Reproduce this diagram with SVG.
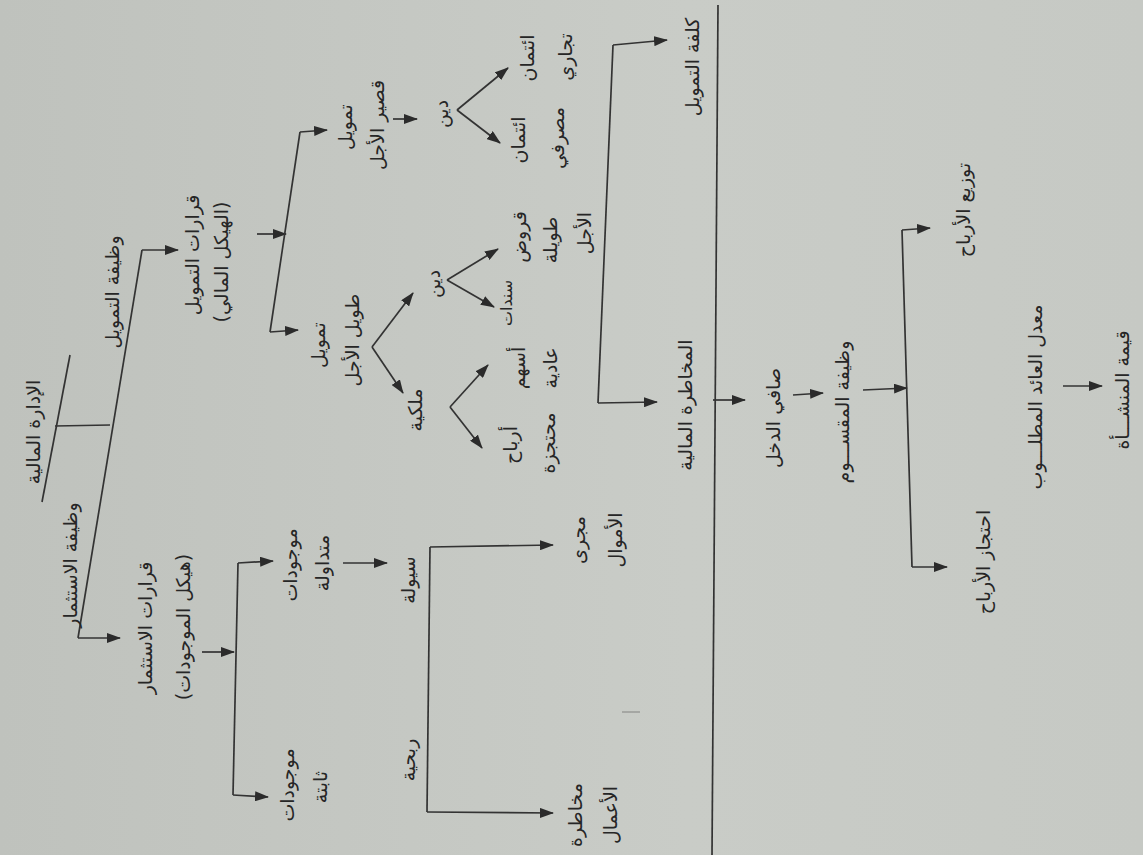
<svg xmlns="http://www.w3.org/2000/svg" width="1143" height="855" viewBox="0 0 1143 855">
<style>
.t{font-family:"DejaVu Sans","Noto Sans",sans-serif;font-size:19px;fill:#262626;text-anchor:middle;dominant-baseline:central}
.s{font-size:16px}
.c{stroke:#333;stroke-width:1.7;fill:none}
.a{stroke:#333;stroke-width:1.7;fill:none;marker-end:url(#ah)}
</style>
<defs>
<marker id="ah" markerUnits="userSpaceOnUse" markerWidth="14" markerHeight="10" refX="13" refY="5" orient="auto">
<path d="M0,0 L14,5 L0,10 z" fill="#2b2b2b"/>
</marker>
<linearGradient id="bg" x1="0" y1="0" x2="1" y2="0">
<stop offset="0" stop-color="#bfc2bd"/>
<stop offset="0.6" stop-color="#c9ccc7"/>
<stop offset="1" stop-color="#c6c9c4"/>
</linearGradient>
</defs>
<rect width="1143" height="855" fill="url(#bg)"/>

<g id="connectors">
<line class="c" x1="70" y1="355" x2="42" y2="502"/>
<line class="c" x1="55" y1="426" x2="110" y2="425"/>
<line class="c" x1="142" y1="250" x2="78" y2="638"/>
<line class="a" x1="142" y1="250" x2="178" y2="250"/>
<line class="a" x1="78" y1="638" x2="120" y2="638"/>

<line class="a" x1="202" y1="652" x2="234" y2="652"/>
<line class="c" x1="238" y1="563" x2="233" y2="795"/>
<line class="a" x1="238" y1="563" x2="273" y2="561"/>
<line class="a" x1="233" y1="795" x2="268" y2="797"/>
<line class="a" x1="343" y1="563" x2="387" y2="563"/>
<line class="c" x1="430" y1="547" x2="427" y2="812"/>
<line class="a" x1="430" y1="547" x2="553" y2="545"/>
<line class="a" x1="427" y1="812" x2="553" y2="813"/>

<line class="a" x1="257" y1="234" x2="286" y2="234"/>
<line class="c" x1="300" y1="132" x2="270" y2="332"/>
<line class="a" x1="300" y1="132" x2="327" y2="130"/>
<line class="a" x1="270" y1="332" x2="298" y2="330"/>
<line class="a" x1="393" y1="119" x2="417" y2="119"/>
<line class="a" x1="457" y1="110" x2="508" y2="68"/>
<line class="a" x1="457" y1="110" x2="500" y2="143"/>
<line class="a" x1="372" y1="347" x2="413" y2="293"/>
<line class="a" x1="372" y1="347" x2="403" y2="393"/>
<line class="a" x1="447" y1="280" x2="498" y2="249"/>
<line class="a" x1="447" y1="280" x2="494" y2="307"/>
<line class="a" x1="450" y1="407" x2="488" y2="365"/>
<line class="a" x1="450" y1="407" x2="482" y2="448"/>

<line class="c" x1="613" y1="45" x2="598" y2="403"/>
<line class="a" x1="613" y1="45" x2="667" y2="40"/>
<line class="a" x1="598" y1="403" x2="657" y2="402"/>

<line class="c" x1="718" y1="5" x2="712" y2="855"/>
<line class="a" x1="713" y1="400" x2="745" y2="400"/>
<line class="a" x1="793" y1="395" x2="823" y2="393"/>
<line class="a" x1="863" y1="390" x2="907" y2="388"/>
<line class="c" x1="902" y1="230" x2="912" y2="567"/>
<line class="a" x1="902" y1="230" x2="930" y2="228"/>
<line class="a" x1="912" y1="567" x2="947" y2="567"/>
<line class="a" x1="1063" y1="386" x2="1102" y2="386"/>
<line x1="622" y1="712" x2="640" y2="712" stroke="#555" stroke-width="1" opacity="0.6"/>
</g>

<g id="n-root"><text class="t" transform="translate(33,432) rotate(-90)">الإدارة المالية</text></g>
<g id="n-fin-func"><text class="t" transform="translate(112,292) rotate(-90)">وظيفة التمويل</text></g>
<g id="n-inv-func"><text class="t" transform="translate(70,565) rotate(-90)">وظيفة الاستثمار</text></g>
<g id="n-fin-dec">
<text class="t" transform="translate(192,255) rotate(-90)">قرارات التمويل</text>
<text class="t" transform="translate(221,262) rotate(-90)">(الهيكل المالي)</text>
</g>
<g id="n-inv-dec">
<text class="t" transform="translate(145,628) rotate(-90)">قرارات الاستثمار</text>
<text class="t" transform="translate(183,627) rotate(-90)">(هيكل الموجودات)</text>
</g>
<g id="n-cur-assets">
<text class="t" transform="translate(290,565) rotate(-90)">موجودات</text>
<text class="t" transform="translate(322,563) rotate(-90)">متداولة</text>
</g>
<g id="n-fix-assets">
<text class="t" transform="translate(287,785) rotate(-90)">موجودات</text>
<text class="t" transform="translate(320,787) rotate(-90)">ثابتة</text>
</g>
<g id="n-liquidity"><text class="t" transform="translate(408,580) rotate(-90)">سيولة</text></g>
<g id="n-profitability"><text class="t" transform="translate(408,760) rotate(-90)">ربحية</text></g>
<g id="n-cashflow">
<text class="t" transform="translate(578,540) rotate(-90)">مجرى</text>
<text class="t" transform="translate(615,540) rotate(-90)">الأموال</text>
</g>
<g id="n-bizrisk">
<text class="t" transform="translate(575,815) rotate(-90)">مخاطرة</text>
<text class="t" transform="translate(610,815) rotate(-90)">الأعمال</text>
</g>
<g id="n-short">
<text class="t" transform="translate(345,127) rotate(-90)">تمويل</text>
<text class="t" transform="translate(377,125) rotate(-90)">قصير الأجل</text>
</g>
<g id="n-long">
<text class="t" transform="translate(318,345) rotate(-90)">تمويل</text>
<text class="t" transform="translate(352,340) rotate(-90)">طويل الأجل</text>
</g>
<g id="n-debt-s"><text class="t" transform="translate(441,114) rotate(-90)">دين</text></g>
<g id="n-trade">
<text class="t" transform="translate(527,58) rotate(-90)">ائتمان</text>
<text class="t" transform="translate(565,57) rotate(-90)">تجاري</text>
</g>
<g id="n-bank">
<text class="t" transform="translate(518,140) rotate(-90)">ائتمان</text>
<text class="t" transform="translate(557,138) rotate(-90)">مصرفي</text>
</g>
<g id="n-debt-l"><text class="t" transform="translate(433,284) rotate(-90)">دين</text></g>
<g id="n-loans">
<text class="t" transform="translate(519,237) rotate(-90)">قروض</text>
<text class="t" transform="translate(550,240) rotate(-90)">طويلة</text>
<text class="t" transform="translate(584,233) rotate(-90)">الأجل</text>
</g>
<g id="n-bonds"><text class="t s" transform="translate(506,303) rotate(-90)">سندات</text></g>
<g id="n-equity"><text class="t" transform="translate(415,410) rotate(-90)">ملكية</text></g>
<g id="n-common">
<text class="t" transform="translate(518,368) rotate(-90)">أسهم</text>
<text class="t" transform="translate(550,368) rotate(-90)">عادية</text>
</g>
<g id="n-retained">
<text class="t" transform="translate(510,445) rotate(-90)">أرباح</text>
<text class="t" transform="translate(548,443) rotate(-90)">محتجزة</text>
</g>
<g id="n-cost"><text class="t" transform="translate(692,67) rotate(-90)">كلفة التمويل</text></g>
<g id="n-finrisk"><text class="t" transform="translate(685,405) rotate(-90)">المخاطرة المالية</text></g>
<g id="n-netincome"><text class="t" transform="translate(773,418) rotate(-90)">صافي الدخل</text></g>
<g id="n-div-func"><text class="t" transform="translate(842,412) rotate(-90)">وظيفة المقســـوم</text></g>
<g id="n-dist"><text class="t" transform="translate(963,210) rotate(-90)">توزيع الأرباح</text></g>
<g id="n-retain"><text class="t" transform="translate(983,562) rotate(-90)">احتجاز الأرباح</text></g>
<g id="n-rate"><text class="t" transform="translate(1035,397) rotate(-90)">معدل العائد المطلـــوب</text></g>
<g id="n-value"><text class="t" transform="translate(1122,390) rotate(-90)">قيمة المنشـــأة</text></g>
</svg>
